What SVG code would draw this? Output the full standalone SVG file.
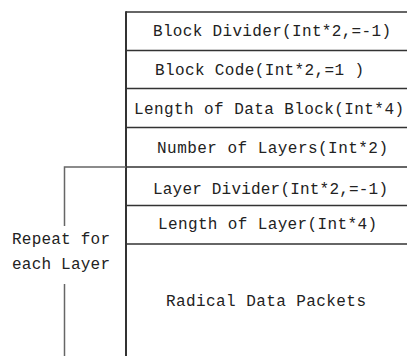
<svg xmlns="http://www.w3.org/2000/svg" width="407" height="356" viewBox="0 0 407 356">
  <style>
    .cell { fill: none; stroke: #333; stroke-width: 1.5; }
    .frame { stroke: #333; stroke-width: 2; }
    .bracket { fill: none; stroke: #666; stroke-width: 1.5; }
    text { font-family: "Liberation Mono", "Courier New", monospace; font-size: 16px; fill: #222; }
  </style>
  <rect width="407" height="356" fill="#fff"/>

  <!-- record layout: stacked fields -->
  <g id="block-divider">
    <line class="cell" x1="126" y1="12" x2="407" y2="12"/>
    <text x="153" y="36" textLength="238" lengthAdjust="spacing">Block Divider(Int*2,=-1)</text>
  </g>
  <g id="block-code">
    <line class="cell" x1="126" y1="50.5" x2="407" y2="50.5"/>
    <text x="155" y="75" textLength="209" lengthAdjust="spacing">Block Code(Int*2,=1 )</text>
  </g>
  <g id="length-of-data-block">
    <line class="cell" x1="126" y1="88.5" x2="407" y2="88.5"/>
    <text x="134" y="114" textLength="270" lengthAdjust="spacing">Length of Data Block(Int*4)</text>
  </g>
  <g id="number-of-layers">
    <line class="cell" x1="126" y1="127.5" x2="407" y2="127.5"/>
    <text x="157" y="153" textLength="231" lengthAdjust="spacing">Number of Layers(Int*2)</text>
  </g>
  <g id="layer-divider">
    <line class="cell" x1="126" y1="167" x2="407" y2="167"/>
    <text x="153" y="194" textLength="235" lengthAdjust="spacing">Layer Divider(Int*2,=-1)</text>
  </g>
  <g id="length-of-layer">
    <line class="cell" x1="126" y1="205.5" x2="407" y2="205.5"/>
    <text x="158" y="229" textLength="219" lengthAdjust="spacing">Length of Layer(Int*4)</text>
  </g>
  <g id="radical-data-packets">
    <line class="cell" x1="126" y1="244" x2="407" y2="244"/>
    <text x="166" y="306" textLength="200" lengthAdjust="spacing">Radical Data Packets</text>
  </g>
  <g id="frame">
    <line class="frame" x1="126" y1="11.25" x2="126" y2="356"/>
  </g>

  <!-- repeat bracket spanning the per-layer fields -->
  <g id="connectors">
    <polyline class="bracket" points="64.5,226 64.5,167 126,167"/>
    <line class="bracket" x1="64.5" y1="284" x2="64.5" y2="356"/>
  </g>
  <g id="repeat-label">
    <text x="12" y="244" textLength="98" lengthAdjust="spacing">Repeat for</text>
    <text x="12" y="269" textLength="98" lengthAdjust="spacing">each Layer</text>
  </g>
</svg>
